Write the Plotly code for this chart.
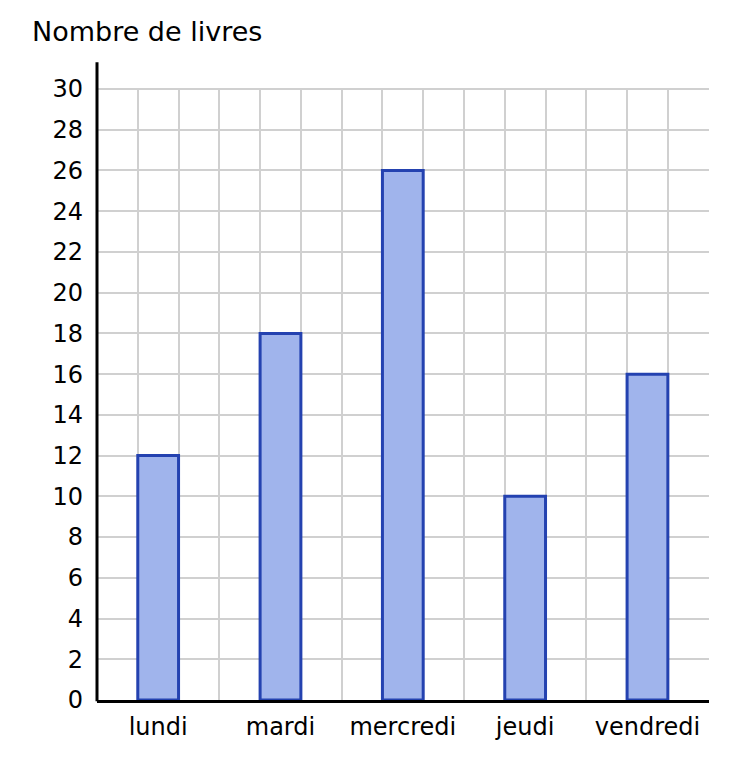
import plotly.graph_objects as go

jours = ['lundi', 'mardi', 'mercredi', 'jeudi', 'vendredi']
livres = [12, 18, 26, 10, 16]
y_ticks = list(range(0, 31, 2))

fig = go.Figure()
fig.add_trace(go.Bar(
    x=list(range(len(jours))), y=livres, width=1/3,
    marker=dict(color='#a0b4ec', line=dict(color='#2442b0', width=3)),
))

fig.update_xaxes(
    range=[-0.5, len(jours) - 0.497], tickvals=list(range(len(jours))), ticktext=jours,
    showgrid=False, zeroline=False, showline=True, linecolor='black', linewidth=3,
    ticks='', ticklabelstandoff=3,
    minor=dict(tick0=-0.5, dtick=1/3, showgrid=True, gridcolor='#d0d0d0', gridwidth=2),
    tickfont=dict(size=24, color='black'),
)
fig.update_yaxes(
    range=[0, 30.05], tickvals=y_ticks, showgrid=True, gridcolor='#d0d0d0', gridwidth=2,
    zeroline=False, showline=False, ticks='', ticklabelstandoff=13,
    tickfont=dict(size=24, color='black'),
)
# y axis line, drawn a bit taller than the plot area
fig.add_shape(type='line', xref='paper', yref='paper', x0=0, x1=0, y0=-0.002, y1=1.042,
              line=dict(color='black', width=3))
fig.add_annotation(text='Nombre de livres', xref='paper', yref='paper', x=-0.11, y=1.092,
                   xanchor='left', yanchor='middle', showarrow=False,
                   font=dict(size=27, color='black'))

# page body has an 8px margin, so the figure is a bit smaller than the window
fig.update_layout(
    width=720, height=753, margin=dict(l=89, r=19, t=80, b=61),
    plot_bgcolor='white', paper_bgcolor='white', showlegend=False,
    font=dict(family='DejaVu Sans', color='black'),
)
fig.write_html('out.html')
